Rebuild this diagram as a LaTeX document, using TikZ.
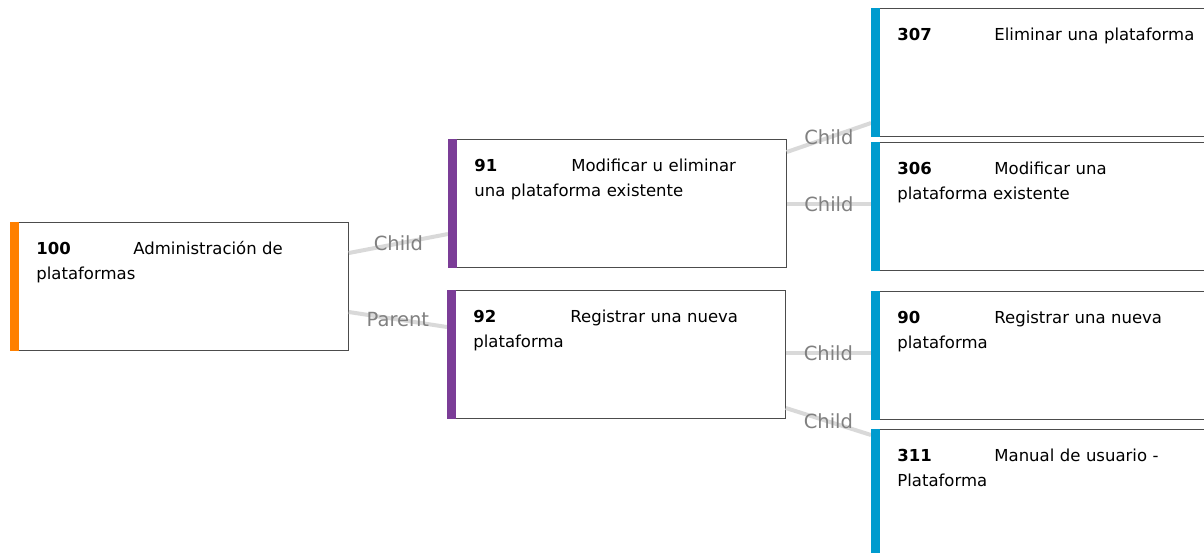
\documentclass[tikz,border=0pt]{standalone}
\usepackage{fontspec}
\setmainfont{DejaVu Sans}
\usepackage{xcolor}
\definecolor{rootorange}{RGB}{255,128,0}
\definecolor{midpurple}{RGB}{123,61,151}
\definecolor{leafblue}{RGB}{0,155,206}
\definecolor{linkgray}{RGB}{217,217,217}
\definecolor{relgray}{RGB}{128,128,128}
\newcommand{\cardtitle}[2]{\mbox{\makebox[97pt][l]{\textbf{#1}}#2}}

\begin{document}
\begin{tikzpicture}[x=1pt,y=-1pt,
    card/.style={draw=black!70,line width=0.8pt,fill=white,anchor=north west,
      inner xsep=26pt,inner ysep=0pt,text width=286pt,align=left,
      text height=32.5pt,text depth=95.5pt,font=\fontsize{16.5}{24.5}\selectfont},
    link/.style={draw=linkgray,line width=4pt},
    rel/.style={midway,text=relgray,inner sep=0pt,font=\fontsize{19.5}{20}\selectfont}]
        \useasboundingbox (0,0) rectangle (1204,552);
        \node[card] (adm) at (10,222) {\cardtitle{100}{Administración de}\\plataformas};
        \node[card] (p91) at (448,139) {\cardtitle{91}{Modificar u eliminar}\\una plataforma existente};
        \node[card] (p92) at (447,290) {\cardtitle{92}{Registrar una nueva}\\plataforma};
        \node[card] (e307) at (871,8) {\cardtitle{307}{Eliminar una plataforma}};
        \node[card] (e306) at (871,142) {\cardtitle{306}{Modificar una}\\plataforma existente};
        \node[card] (e90) at (871,291) {\cardtitle{90}{Registrar una nueva}\\plataforma};
        \node[card] (e311) at (871,429) {\cardtitle{311}{Manual de usuario -}\\Plataforma};
        \draw[link] ([yshift=-31pt]adm.north east) -- ([yshift=-95pt]p91.north west) node[rel] {Child};
        \draw[link] ([yshift=-90pt]adm.north east) -- ([yshift=-37pt]p92.north west) node[rel] {Parent};
        \draw[link] ([yshift=-13pt]p91.north east) -- ([yshift=-115pt]e307.north west) node[rel] {Child};
        \draw[link] ([yshift=-65pt]p91.north east) -- ([yshift=-62pt]e306.north west) node[rel] {Child};
        \draw[link] ([yshift=-63pt]p92.north east) -- ([yshift=-62pt]e90.north west) node[rel] {Child};
        \draw[link] ([yshift=-118pt]p92.north east) -- ([yshift=-6pt]e311.north west) node[rel] {Child};
        % colour bars on the left edge
        \foreach \n/\c in {adm/rootorange,p91/midpurple,p92/midpurple,e307/leafblue,e306/leafblue,e90/leafblue,e311/leafblue}
          \fill[\c] ([xshift=-0.4pt,yshift=0.4pt]\n.north west) rectangle ([xshift=9pt,yshift=-0.4pt]\n.south west);
      \end{tikzpicture}
\end{document}
